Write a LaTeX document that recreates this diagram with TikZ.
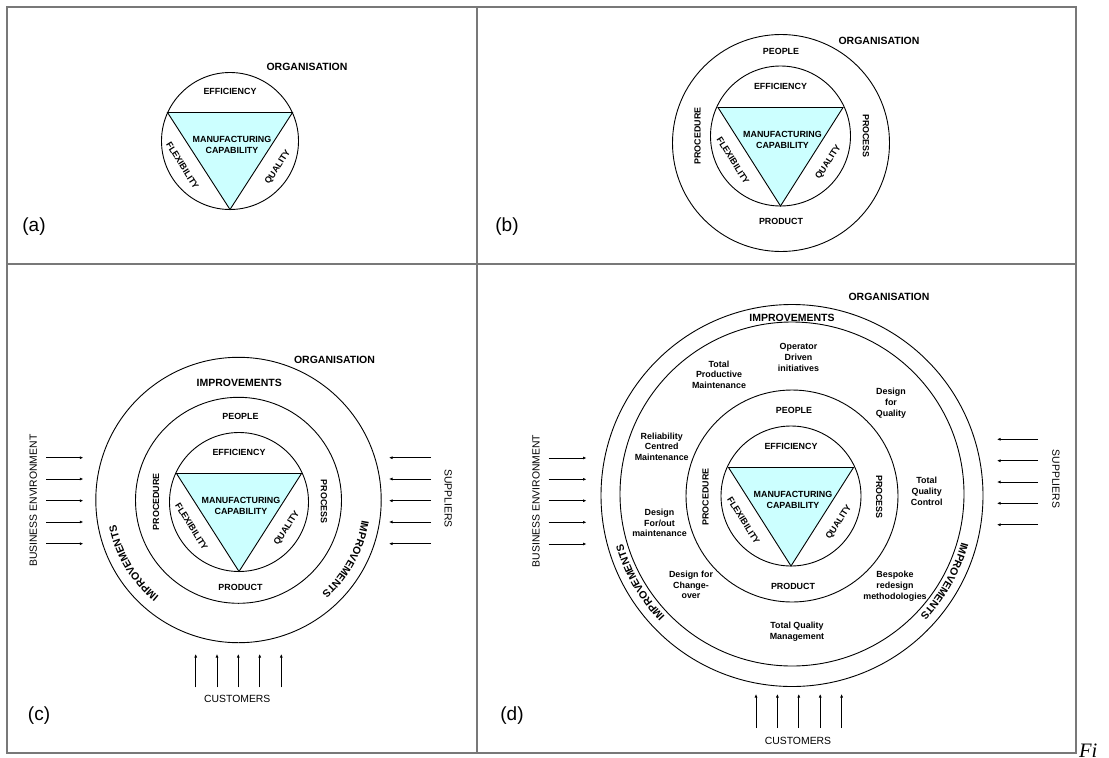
\documentclass[tikz,border=0pt]{standalone}
\usepackage{fontspec}
\setmainfont{Liberation Sans}
\newfontfamily\figserif{Liberation Serif}
\usetikzlibrary{arrows.meta,decorations.text}
\definecolor{tricyan}{RGB}{204,255,255}
\definecolor{framegray}{RGB}{120,120,120}
\newcommand\impf{\bfseries\fontsize{10.5}{12}\selectfont}
\newcommand\corecap[4]{%
\begin{scope}[shift={(#2,#3)}]
 \draw[ring] (0,0) circle[radius=#4];
 \coordinate (#1tl) at (-62.5,-28.5);
 \coordinate (#1tr) at (62.5,-28.5);
 \coordinate (#1tb) at (0,#4);
 \filldraw[tri] (#1tl) -- (#1tr) -- (#1tb) -- cycle;
 \node[lbl] (#1eff) at (0,-50) {EFFICIENCY};
 \node[lbl] (#1man) at (2,4.3) {MANUFACTURING\\CAPABILITY};
 \node[lbl,rotate=-58] (#1flex) at (-47.5,24.5) {FLEXIBILITY};
 \node[lbl,rotate=57] (#1qual) at (48,26.3) {QUALITY};
\end{scope}}
\begin{document}
\begin{tikzpicture}[x=1pt,y=-1pt,
 ring/.style={line width=0.9pt},
 tri/.style={fill=tricyan,draw=black,line width=0.9pt},
 lbl/.style={font=\bfseries\fontsize{8.9}{10.8}\selectfont,inner sep=0pt,align=center},
 big/.style={font=\impf,inner sep=0pt},
 side/.style={font=\fontsize{10.4}{12}\selectfont,inner sep=0pt},
 panel/.style={font=\fontsize{19}{22}\selectfont,inner sep=0pt},
 arr/.style={-{Latex[length=3.5pt,width=3pt]},line width=0.7pt},
 frame/.style={draw=framegray,line width=1.2pt},
 improv/.style={decorate,decoration={text along path,text={|\impf|IMPROVEMENTS},text align=center}}]
\useasboundingbox (0,0) rectangle (1109,758);

% frame
\draw[frame] (7,7) rectangle (1076,753);
\draw[frame] (477,7) -- (477,753);
\draw[frame] (7,264) -- (1076,264);

% (a)
\corecap{a}{230}{141}{68.5}
\node[big] (aorg) at (307,67) {ORGANISATION};
\node[panel] (alab) at (34,227) {(a)};

% (b)
\draw[ring] (781,143) circle[radius=108.5];
\corecap{b}{780.5}{136}{70}
\node[big] (borg) at (879,41) {ORGANISATION};
\node[lbl] (bpeo) at (781,51) {PEOPLE};
\node[lbl,rotate=90] (bproc) at (697.5,136) {PROCEDURE};
\node[lbl,rotate=-90] (bpros) at (866,136) {PROCESS};
\node[lbl] (bprod) at (781,221) {PRODUCT};
\node[panel] (blab) at (507,227) {(b)};

% (c)
\draw[ring] (238.5,500) circle[radius=142.7];
\draw[ring] (238.5,500.3) circle[radius=103];
\corecap{c}{239}{502}{69.5}
\node[big] (corg) at (334.5,360) {ORGANISATION};
\node[big] (cimp) at (239.3,383.3) {IMPROVEMENTS};
\path[improv] ([shift={(-241:125)}]238.5,500) arc[start angle=-241,end angle=-181,radius=125];
\path[improv] ([shift={(-1.25:125)}]238.5,500) arc[start angle=-1.25,end angle=58.75,radius=125];
\node[lbl] (cpeo) at (240.5,416.7) {PEOPLE};
\node[lbl,rotate=90] (cproc) at (156,501.7) {PROCEDURE};
\node[lbl,rotate=-90] (cpros) at (324,501.7) {PROCESS};
\node[lbl] (cprod) at (240.5,587.7) {PRODUCT};
\foreach \y [count=\i] in {457.7,479,500.7,522,543.7} {
 \coordinate (cbs\i) at (46,\y); \coordinate (cbe\i) at (83.3,\y);
 \draw[arr] (cbs\i) -- (cbe\i);
 \coordinate (css\i) at (431,\y); \coordinate (cse\i) at (389,\y);
 \draw[arr] (css\i) -- (cse\i);}
\foreach \x [count=\i] in {195.7,217,238.3,259.7,281.3} {
 \coordinate (ccs\i) at (\x,687.3); \coordinate (cce\i) at (\x,654);
 \draw[arr] (ccs\i) -- (cce\i);}
\node[side,rotate=90] (cbus) at (33.3,500.7) {BUSINESS ENVIRONMENT};
\node[side,rotate=-90] (csup) at (448.3,498.3) {SUPPLIERS};
\node[side] (ccus) at (237.3,699.3) {CUSTOMERS};
\node[panel] (clab) at (39,716) {(c)};

% (d)
\draw[ring] (792,495.5) circle[radius=191];
\draw[ring] (792,494) circle[radius=172];
\draw[ring] (792,496) circle[radius=106];
\corecap{d}{791}{496}{70}
\node[big] (dorg) at (889,297.3) {ORGANISATION};
\node[big] (dimp) at (792,317.5) {IMPROVEMENTS};
\path[improv] ([shift={(-240:176)}]792,495) arc[start angle=-240,end angle=-180,radius=176];
\path[improv] ([shift={(-0.6:176)}]792,495) arc[start angle=-0.6,end angle=59.4,radius=176];
\node[lbl] (dpeo) at (794,410) {PEOPLE};
\node[lbl,rotate=90] (dproc) at (705.5,497) {PROCEDURE};
\node[lbl,rotate=-90] (dpros) at (879.3,497) {PROCESS};
\node[lbl] (dprod) at (793,586) {PRODUCT};
\node[lbl] (dodi) at (798.5,357.5) {Operator\\Driven\\initiatives};
\node[lbl] (dtpm) at (719,374.7) {Total\\Productive\\Maintenance};
\node[lbl] (ddfq) at (891,403.3) {Design\\for\\Quality};
\node[lbl] (drcm) at (661.7,446.7) {Reliability\\Centred\\Maintenance};
\node[lbl] (dtqc) at (926.7,491.5) {Total\\Quality\\Control};
\node[lbl] (ddfm) at (659.5,523) {Design\\For/out\\maintenance};
\node[lbl] (ddfc) at (691,585) {Design for\\Change-\\over};
\node[lbl] (dbrm) at (895,586.5) {Bespoke\\redesign\\methodologies};
\node[lbl] (dtqm) at (797,631.7) {Total Quality\\Management};
\foreach \y [count=\i] in {458,479.3,500.7,522.3,544} {
 \coordinate (dbs\i) at (548.5,\y); \coordinate (dbe\i) at (586.5,\y);
 \draw[arr] (dbs\i) -- (dbe\i);}
\foreach \y [count=\i] in {439.3,460.7,482,503.3,524.7} {
 \coordinate (dss\i) at (1038,\y); \coordinate (dse\i) at (997,\y);
 \draw[arr] (dss\i) -- (dse\i);}
\foreach \x [count=\i] in {756,777.4,798.8,820.2,841.6} {
 \coordinate (dcs\i) at (\x,728); \coordinate (dce\i) at (\x,694);
 \draw[arr] (dcs\i) -- (dce\i);}
\node[side,rotate=90] (dbus) at (536,501) {BUSINESS ENVIRONMENT};
\node[side,rotate=-90] (dsup) at (1056,479) {SUPPLIERS};
\node[side] (dcus) at (798,741) {CUSTOMERS};
\node[panel] (dlab) at (512,716) {(d)};

\node[anchor=base west,inner sep=0pt,font=\figserif\itshape\fontsize{20.5}{24}\selectfont] (fig) at (1079,757) {Fi};
\end{tikzpicture}
\end{document}
